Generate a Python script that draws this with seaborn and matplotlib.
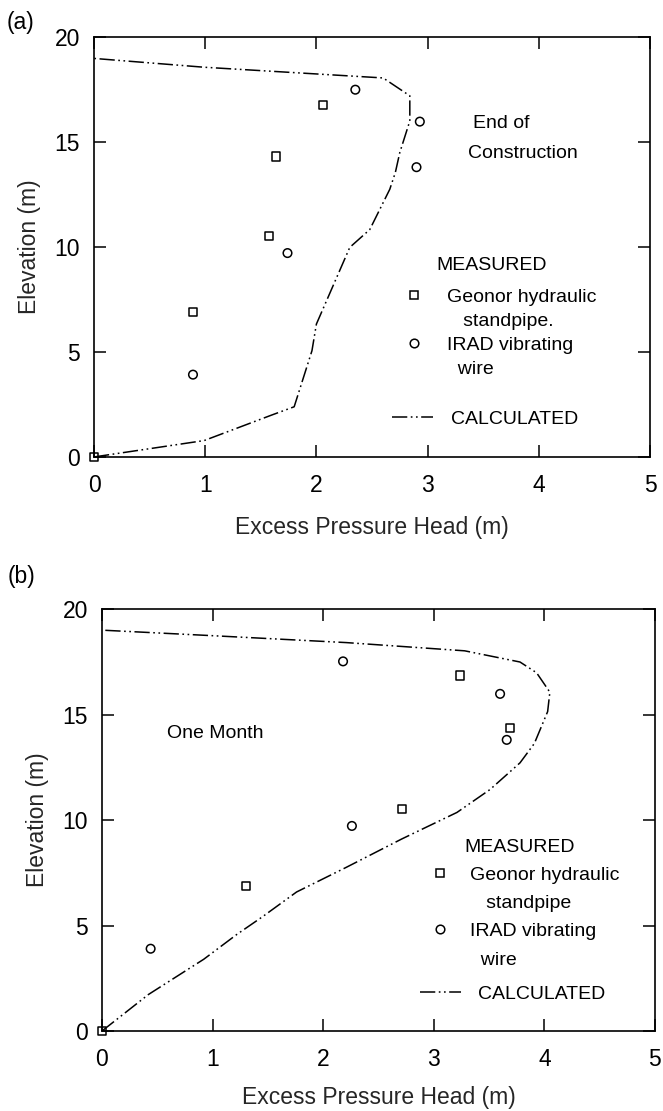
import numpy as np
import pandas as pd
import matplotlib
matplotlib.use("Agg")
import matplotlib.pyplot as plt
from matplotlib.lines import Line2D
import seaborn as sns

# ---------------- data ----------------
# Panel (a): End of Construction
a_geonor_x = [0.0, 0.89, 1.57, 1.64, 2.06]
a_geonor_y = [0.0, 6.89, 10.53, 14.31, 16.77]
a_irad_x = [0.89, 1.74, 2.90, 2.93, 2.35]
a_irad_y = [3.92, 9.71, 13.80, 15.97, 17.49]
a_calc_x = [0.0, 0.99, 1.60, 1.80, 1.96, 2.00, 2.30, 2.48, 2.66, 2.71, 2.75, 2.84, 2.84, 2.60, 0.99, 0.0]
a_calc_y = [0.0, 0.78, 2.0, 2.39, 5.06, 6.33, 9.98, 10.83, 12.75, 13.55, 14.5, 16.0, 17.2, 18.05, 18.56, 18.98]

# Panel (b): One Month
b_geonor_x = [0.0, 1.30, 2.71, 3.69, 3.24]
b_geonor_y = [0.0, 6.89, 10.53, 14.38, 16.85]
b_irad_x = [0.44, 2.26, 3.66, 3.60, 2.18]
b_irad_y = [3.90, 9.72, 13.80, 15.98, 17.52]
b_calc_x = [0.0, 0.42, 0.92, 1.22, 1.45, 1.76, 2.21, 2.71, 3.21, 3.51, 3.78, 3.91, 4.03, 4.05,
            3.93, 3.78, 3.28, 2.21, 0.99, 0.0]
b_calc_y = [0.0, 1.73, 3.40, 4.58, 5.41, 6.59, 7.76, 9.10, 10.36, 11.45, 12.71, 13.63, 15.14, 16.06,
            16.98, 17.49, 18.02, 18.41, 18.74, 19.0]

x_ticks = [0, 1, 2, 3, 4, 5]
y_ticks = [0, 5, 10, 15, 20]

# ---------------- style ----------------
sns.set_theme(style="ticks")
plt.rcParams["font.family"] = ["Liberation Sans", "DejaVu Sans"]
plt.rcParams["axes.edgecolor"] = "black"
plt.rcParams["text.color"] = "black"
plt.rcParams["xtick.color"] = "black"
plt.rcParams["ytick.color"] = "black"

DASH = (0, (10, 2.3, 1.1, 2.3, 1.1, 2.3))
FS = 16.5
TFS = 14

fig = plt.figure(figsize=(6.63, 11.11), dpi=100)
ax_a = fig.add_axes([0.1418, 0.5887, 0.8386, 0.3780])
ax_b = fig.add_axes([0.1538, 0.0720, 0.8340, 0.3798])


def draw(ax, gx, gy, ix, iy, cx, cy, xlabelpad):
    sns.lineplot(x=cx, y=cy, sort=False, estimator=None, color="black", lw=1.1,
                 linestyle=DASH, ax=ax, clip_on=False)
    sns.scatterplot(x=gx, y=gy, marker="s", s=34, facecolor="none", edgecolor="black",
                    linewidth=1.1, ax=ax, clip_on=False, zorder=5)
    sns.scatterplot(x=ix, y=iy, marker="o", s=38, facecolor="none", edgecolor="black",
                    linewidth=1.1, ax=ax, clip_on=False, zorder=5)
    ax.set_xlim(0, 5)
    ax.set_ylim(0, 20)
    ax.set_xticks(x_ticks)
    ax.set_yticks(y_ticks)
    ax.tick_params(axis="x", pad=12)
    ax.tick_params(axis="y", pad=10)
    ax.tick_params(direction="in", length=8.5, width=1.1, top=True, right=True,
                   labelsize=FS)
    for s in ax.spines.values():
        s.set_linewidth(1.2)
        s.set_visible(True)
    ax.set_xlabel("Excess Pressure Head (m)", fontsize=FS, labelpad=xlabelpad)
    ax.set_ylabel("Elevation (m)", fontsize=FS, labelpad=10)


draw(ax_a, a_geonor_x, a_geonor_y, a_irad_x, a_irad_y, a_calc_x, a_calc_y, 14)
draw(ax_b, b_geonor_x, b_geonor_y, b_irad_x, b_irad_y, b_calc_x, b_calc_y, 11)


def legends(ax, mk_anchor, ln_anchor, labels, labsp, mk_pad, ln_pad):
    h_sq = Line2D([], [], marker="s", ls="none", mfc="none", mec="black", ms=5.8, mew=1.1)
    h_ci = Line2D([], [], marker="o", ls="none", mfc="none", mec="black", ms=6.2, mew=1.1)
    h_no = Line2D([], [], ls="none")
    h_ln = Line2D([], [], color="black", lw=1.1, linestyle=DASH)
    leg1 = ax.legend([h_sq, h_no, h_ci, h_no], labels, loc="upper left",
                     bbox_to_anchor=mk_anchor, frameon=False, fontsize=TFS,
                     handlelength=2.1, handletextpad=mk_pad, labelspacing=labsp,
                     borderpad=0, borderaxespad=0)
    ax.add_artist(leg1)
    ax.legend([h_ln], ["CALCULATED"], loc="center left", bbox_to_anchor=ln_anchor,
              frameon=False, fontsize=TFS, handlelength=2.1, handletextpad=ln_pad,
              borderpad=0, borderaxespad=0)


legends(ax_a, (0.538, 0.402), (0.536, 0.09),
        ["Geonor hydraulic", "   standpipe.", "IRAD vibrating", "  wire"],
        0.34, 0.67, 0.93)
legends(ax_b, (0.575, 0.391), (0.575, 0.088),
        ["Geonor hydraulic", "   standpipe", "IRAD vibrating", "  wire"],
        0.55, 0.5, 0.88)

ax_a.text(3.08, 9.1, "MEASURED", fontsize=TFS, va="center", ha="left")
ax_b.text(3.28, 8.72, "MEASURED", fontsize=TFS, va="center", ha="left")

ax_a.text(3.41, 15.9, "End of", fontsize=TFS, va="center", ha="left")
ax_a.text(3.36, 14.45, "Construction", fontsize=TFS, va="center", ha="left")
ax_b.text(0.59, 14.1, "One Month", fontsize=TFS, va="center", ha="left")

fig.text(0.010, 1 - 22 / 1111, "(a)", fontsize=FS, va="center", ha="left")
fig.text(0.012, 1 - 576 / 1111, "(b)", fontsize=FS, va="center", ha="left")

fig.savefig("out.png", dpi=100)
